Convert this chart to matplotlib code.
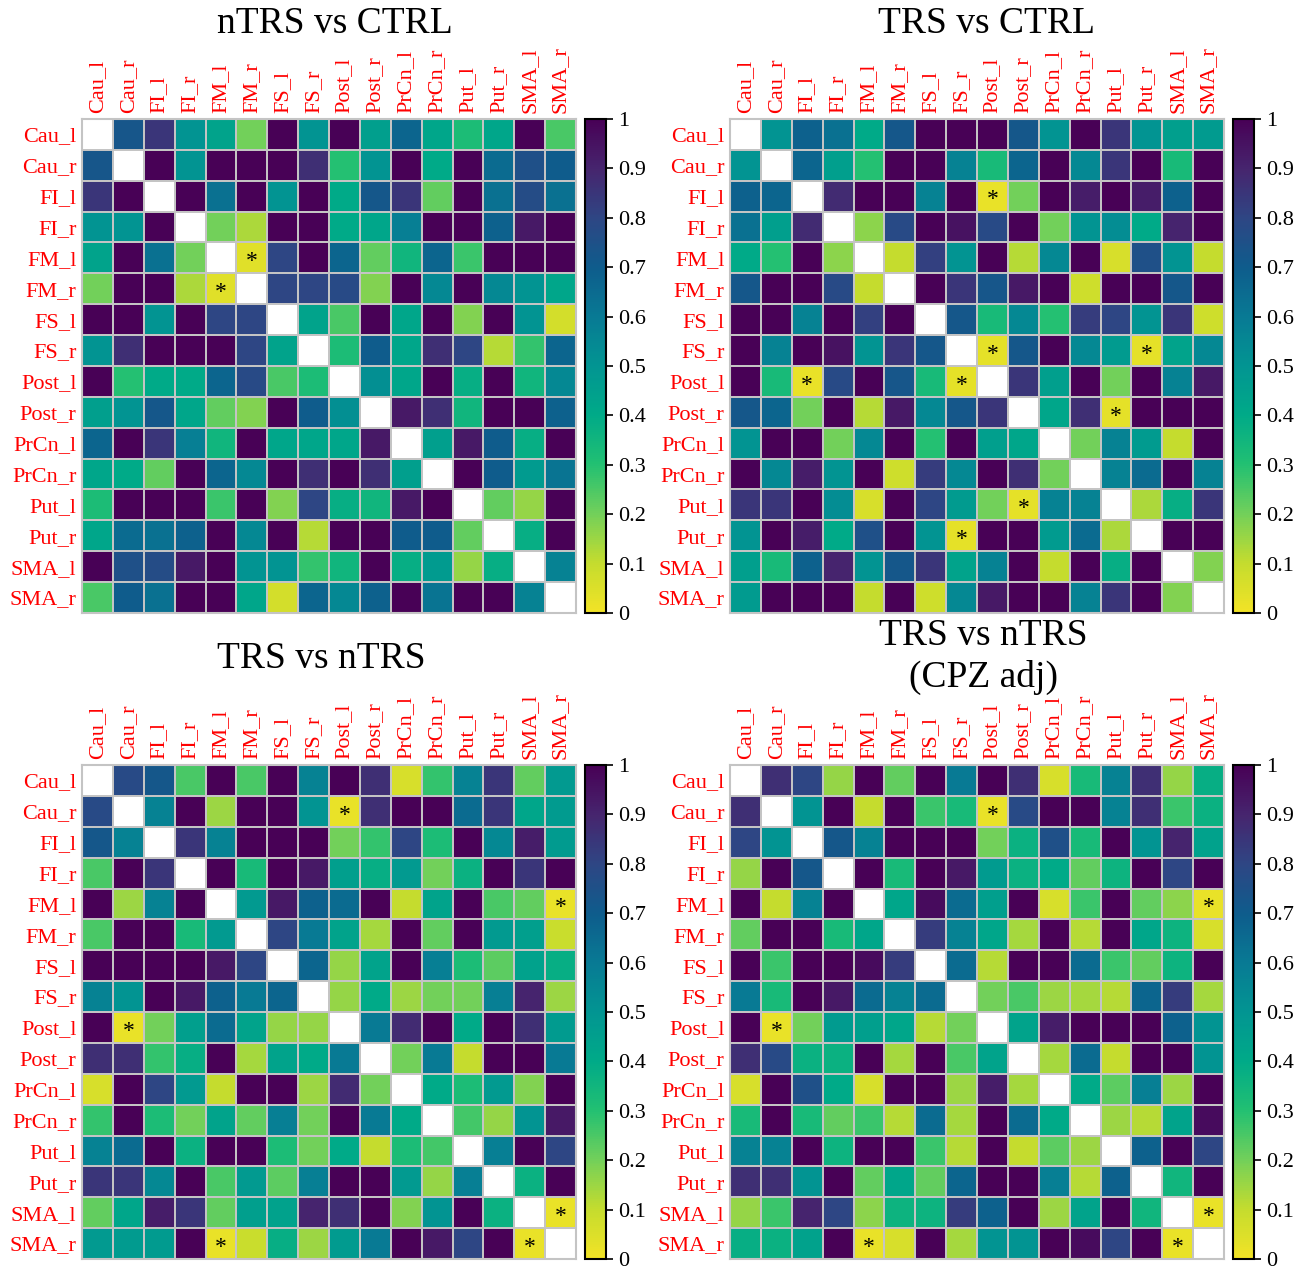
import numpy as np
import matplotlib
matplotlib.use('Agg')
import matplotlib.pyplot as plt
from matplotlib.colors import LinearSegmentedColormap

plt.rcParams['font.family'] = ['Liberation Serif', 'DejaVu Serif']

regions = ['Cau_l', 'Cau_r', 'FI_l', 'FI_r', 'FM_l', 'FM_r', 'FS_l', 'FS_r',
           'Post_l', 'Post_r', 'PrCn_l', 'PrCn_r', 'Put_l', 'Put_r', 'SMA_l', 'SMA_r']

# upper triangles (row i holds columns i+1 .. 15), p-values
ntrs_ctrl = [
    [0.73, 0.85, 0.50, 0.43, 0.20, 1.00, 0.50, 1.00, 0.45, 0.67, 0.42, 0.32, 0.42, 1.00, 0.25],
    [1.00, 0.50, 1.00, 1.00, 1.00, 0.87, 0.30, 0.50, 1.00, 0.40, 1.00, 0.65, 0.75, 0.70],
    [1.00, 0.63, 1.00, 0.50, 1.00, 0.40, 0.72, 0.85, 0.22, 1.00, 0.63, 0.77, 0.63],
    [0.20, 0.13, 1.00, 1.00, 0.40, 0.42, 0.58, 1.00, 1.00, 0.68, 0.93, 1.00],
    [0.04, 0.80, 1.00, 0.67, 0.22, 0.35, 0.67, 0.27, 1.00, 1.00, 1.00],
    [0.80, 0.80, 0.78, 0.18, 1.00, 0.55, 1.00, 0.55, 0.50, 0.42],
    [0.43, 0.25, 1.00, 0.42, 1.00, 0.18, 1.00, 0.50, 0.07],
    [0.32, 0.70, 0.42, 0.87, 0.80, 0.12, 0.28, 0.67],
    [0.52, 0.42, 1.00, 0.38, 1.00, 0.35, 0.55],
    [0.93, 0.87, 0.35, 1.00, 1.00, 0.68],
    [0.45, 0.93, 0.70, 0.38, 1.00],
    [1.00, 0.70, 0.47, 0.62],
    [0.22, 0.16, 1.00],
    [0.38, 1.00],
    [0.57],
]

trs_ctrl = [
    [0.50, 0.68, 0.63, 0.40, 0.72, 1.00, 1.00, 1.00, 0.72, 0.50, 1.00, 0.85, 0.50, 0.45, 0.47],
    [0.67, 0.45, 0.30, 1.00, 1.00, 0.57, 0.33, 0.67, 1.00, 0.55, 0.85, 1.00, 0.33, 1.00],
    [0.88, 1.00, 1.00, 0.57, 1.00, 0.02, 0.20, 1.00, 0.92, 1.00, 0.92, 0.68, 1.00],
    [0.17, 0.78, 1.00, 0.95, 0.78, 1.00, 0.20, 0.50, 0.53, 0.40, 0.90, 1.00],
    [0.10, 0.82, 0.50, 1.00, 0.12, 0.55, 1.00, 0.06, 0.75, 0.50, 0.10],
    [1.00, 0.85, 0.73, 0.93, 1.00, 0.08, 1.00, 1.00, 0.72, 1.00],
    [0.72, 0.33, 0.55, 0.30, 0.83, 0.80, 0.50, 0.85, 0.08],
    [0.03, 0.72, 1.00, 0.55, 0.47, 0.03, 0.43, 0.55],
    [0.85, 0.45, 1.00, 0.20, 1.00, 0.57, 0.93],
    [0.42, 0.87, 0.03, 1.00, 1.00, 1.00],
    [0.20, 0.57, 0.47, 0.10, 1.00],
    [0.57, 0.65, 1.00, 0.57],
    [0.13, 0.38, 0.85],
    [1.00, 1.00],
    [0.18],
]

trs_ntrs = [
    [0.78, 0.72, 0.25, 1.00, 0.25, 1.00, 0.57, 1.00, 0.87, 0.06, 0.28, 0.57, 0.85, 0.22, 0.48],
    [0.57, 1.00, 0.15, 1.00, 1.00, 0.50, 0.02, 0.87, 1.00, 1.00, 0.65, 0.85, 0.42, 0.47],
    [0.85, 0.57, 1.00, 1.00, 1.00, 0.20, 0.28, 0.80, 0.32, 1.00, 0.55, 0.92, 0.47],
    [1.00, 0.33, 1.00, 0.93, 0.45, 0.38, 0.48, 0.20, 0.37, 1.00, 0.85, 1.00],
    [0.48, 0.93, 0.68, 0.65, 1.00, 0.10, 0.43, 1.00, 0.25, 0.22, 0.02],
    [0.80, 0.60, 0.43, 0.14, 1.00, 0.22, 1.00, 0.48, 0.45, 0.09],
    [0.67, 0.16, 0.43, 1.00, 0.58, 0.32, 0.23, 0.44, 0.38],
    [0.16, 0.40, 0.15, 0.20, 0.20, 0.58, 0.90, 0.15],
    [0.60, 0.88, 1.00, 0.40, 1.00, 0.87, 0.47],
    [0.20, 0.60, 0.10, 1.00, 1.00, 0.60],
    [0.40, 0.32, 0.48, 0.18, 1.00],
    [0.26, 0.16, 0.50, 0.93],
    [0.58, 1.00, 0.80],
    [0.37, 1.00],
    [0.02],
]

trs_ntrs_cpz = [
    [0.87, 0.80, 0.16, 1.00, 0.22, 1.00, 0.60, 1.00, 0.87, 0.06, 0.33, 0.57, 0.87, 0.16, 0.38],
    [0.50, 1.00, 0.10, 1.00, 0.27, 0.33, 0.02, 0.78, 1.00, 1.00, 0.57, 0.87, 0.27, 0.37],
    [0.72, 0.57, 1.00, 1.00, 1.00, 0.20, 0.37, 0.75, 0.33, 1.00, 0.50, 0.90, 0.44],
    [1.00, 0.33, 1.00, 0.93, 0.47, 0.37, 0.40, 0.22, 0.36, 1.00, 0.80, 1.00],
    [0.42, 0.97, 0.65, 0.45, 1.00, 0.06, 0.27, 1.00, 0.22, 0.17, 0.02],
    [0.83, 0.57, 0.42, 0.14, 1.00, 0.12, 1.00, 0.42, 0.36, 0.06],
    [0.65, 0.12, 1.00, 1.00, 0.65, 0.27, 0.22, 0.36, 1.00],
    [0.20, 0.25, 0.15, 0.14, 0.12, 0.67, 0.83, 0.14],
    [0.43, 0.92, 1.00, 1.00, 1.00, 0.68, 0.50],
    [0.14, 0.65, 0.10, 1.00, 1.00, 0.50],
    [0.40, 0.23, 0.58, 0.15, 1.00],
    [0.15, 0.12, 0.43, 0.97],
    [0.68, 1.00, 0.80],
    [0.35, 1.00],
    [0.02],
]

panels = [
    (ntrs_ctrl, ['nTRS vs CTRL'], 82, 119, 335, [24]),
    (trs_ctrl, ['TRS vs CTRL'], 730, 119, 986, [24]),
    (trs_ntrs, ['TRS vs nTRS'], 82, 765, 321, [659]),
    (trs_ntrs_cpz, ['TRS vs nTRS', '(CPZ adj)'], 730, 765, 983, [636, 677]),
]


def full_matrix(upper):
    n = len(upper) + 1
    m = np.full((n, n), np.nan)
    for i, row in enumerate(upper):
        for k, v in enumerate(row):
            j = i + 1 + k
            m[i, j] = v
            m[j, i] = v
    return m


# reversed viridis-like scale, a bit more vivid in the blue-green range as in the picture
cmap = LinearSegmentedColormap.from_list('vir_r', [
    (0.0, '#f2e326'), (0.1, '#c4dc2e'), (0.2, '#72d05a'), (0.3, '#22c072'),
    (0.4, '#00aa88'), (0.5, '#029592'), (0.6, '#087a94'), (0.7, '#0e5c8c'),
    (0.8, '#2e4684'), (0.9, '#46256e'), (1.0, '#480156'),
])

W, H = 1294, 1269
S = 494
fig = plt.figure(figsize=(W / 100, H / 100), dpi=100)

for upper, title_lines, x0, y0, tx, tys in panels:
    m = full_matrix(upper)
    n = m.shape[0]
    ax = fig.add_axes([x0 / W, 1 - (y0 + S) / H, S / W, S / H])
    mesh = ax.pcolormesh(np.ma.masked_invalid(m), cmap=cmap, vmin=0, vmax=1,
                         edgecolors='#c4c4c4', linewidth=1.2)
    ax.set_xlim(0, n)
    ax.set_ylim(n, 0)
    ax.set_xticks(np.arange(n) + 0.5)
    ax.set_yticks(np.arange(n) + 0.5)
    ax.set_xticklabels(regions, rotation=90, color='red', fontsize=16)
    ax.set_yticklabels(regions, color='red', fontsize=16)
    ax.xaxis.tick_top()
    ax.tick_params(length=0, pad=4)
    for sp in ax.spines.values():
        sp.set_color('#c4c4c4')
        sp.set_linewidth(1.5)

    for i in range(n):
        for j in range(n):
            if i != j and m[i, j] < 0.05:
                ax.text(j + 0.5, i + 0.62, '*', ha='center', va='center', fontsize=17)

    cax = fig.add_axes([(x0 + 503) / W, 1 - (y0 + S) / H, 21 / W, S / H])
    cb = fig.colorbar(mesh, cax=cax, ticks=np.linspace(0, 1, 11))
    cb.ax.set_yticklabels(['0', '0.1', '0.2', '0.3', '0.4', '0.5', '0.6', '0.7', '0.8', '0.9', '1'])
    cb.ax.tick_params(labelsize=16, length=5, width=1.2)
    cb.outline.set_linewidth(1.5)

    for line, ty in zip(title_lines, tys):
        fig.text(tx / W, 1 - ty / H, line, ha='center', va='center', fontsize=27)

fig.savefig('out.png', dpi=100)
